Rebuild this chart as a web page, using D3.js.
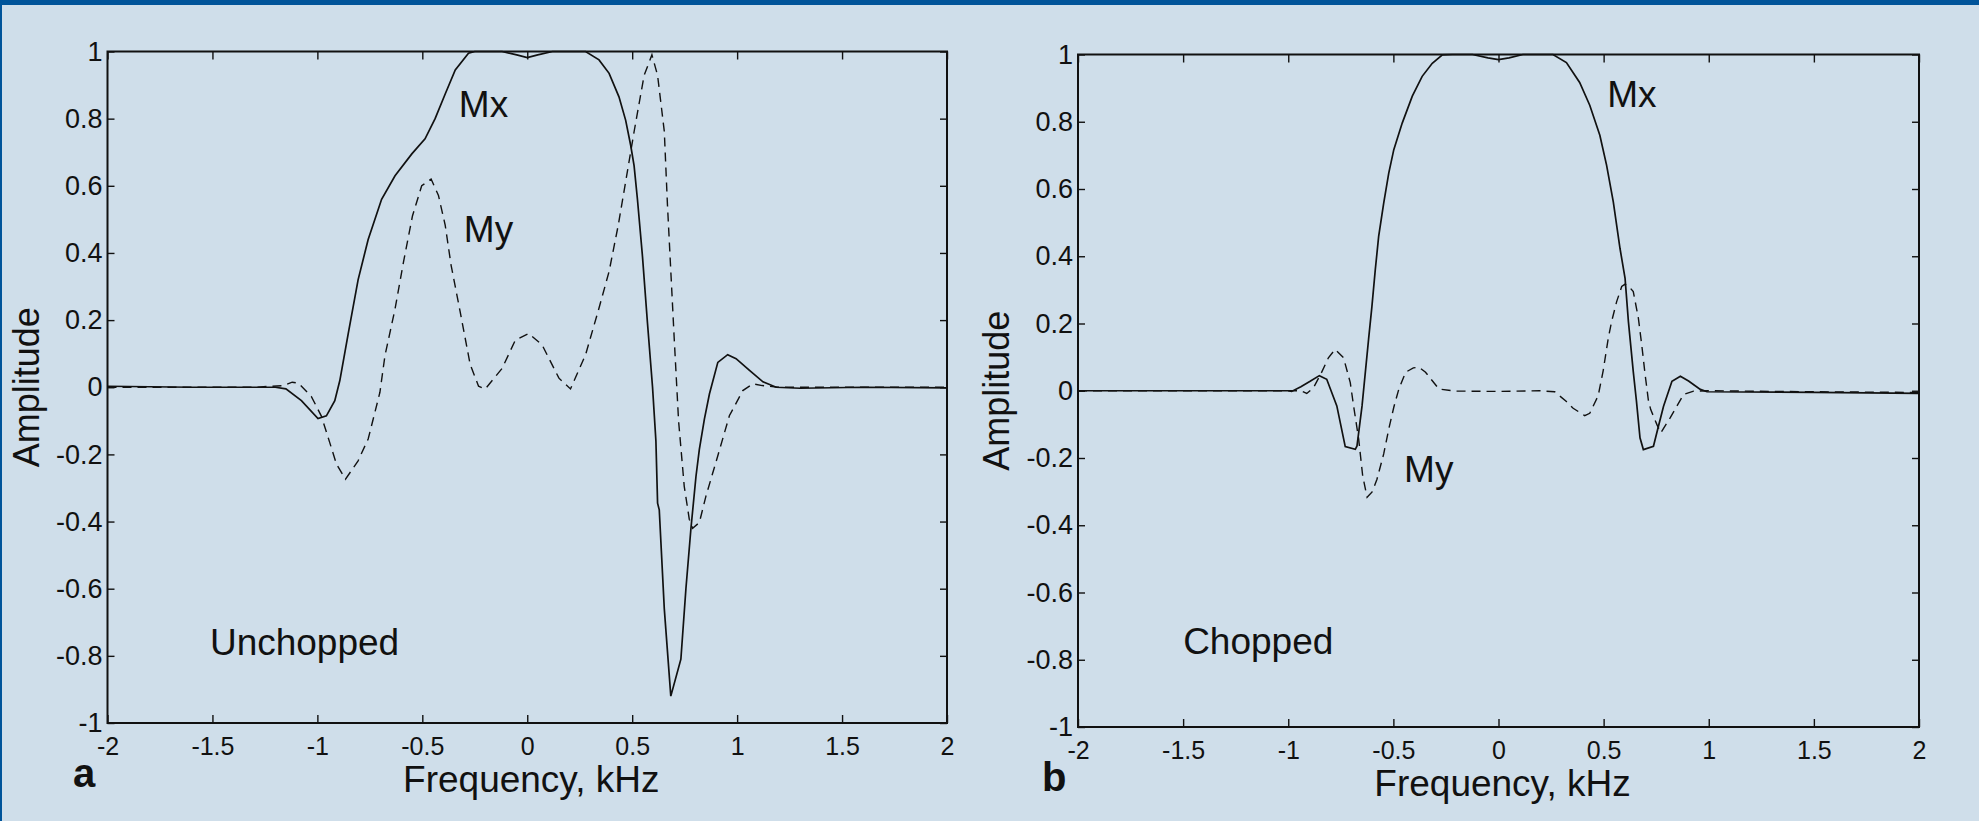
<!DOCTYPE html>
<html>
<head>
<meta charset="utf-8">
<script src="https://cdn.jsdelivr.net/npm/d3@7"></script>
<style>
  body { margin: 0; background: #cfdeea; }
  svg { display: block; }
  text { font-family: "Liberation Sans", Arial, Helvetica, sans-serif; fill: #111; }
</style>
</head>
<body>
<svg width="1979" height="821"></svg>
<script>
// tick values and labels (shared by both panels)
const xTicks = [-2, -1.5, -1, -0.5, 0, 0.5, 1, 1.5, 2];
const xTickLabels = ["-2", "-1.5", "-1", "-0.5", "0", "0.5", "1", "1.5", "2"];
const yTicks = [-1, -0.8, -0.6, -0.4, -0.2, 0, 0.2, 0.4, 0.6, 0.8, 1];
const yTickLabels = ["-1", "-0.8", "-0.6", "-0.4", "-0.2", "0", "0.2", "0.4", "0.6", "0.8", "1"];

// panel a : unchopped
const freqMxA = [-2, -1.6, -1.3, -1.2, -1.15, -1.076, -0.997, -0.957, -0.917, -0.893, -0.853, -0.806, -0.758, -0.694, -0.63, -0.55, -0.487, -0.439, -0.39, -0.343, -0.28, -0.25, -0.12, -0.05, 0, 0.05, 0.12, 0.278, 0.342, 0.39, 0.437, 0.469, 0.493, 0.509, 0.525, 0.549, 0.573, 0.597, 0.613, 0.621, 0.629, 0.653, 0.684, 0.732, 0.756, 0.78, 0.804, 0.82, 0.844, 0.868, 0.908, 0.955, 0.995, 1.059, 1.123, 1.186, 1.3, 1.6, 2];
const mxA = [0.003, 0, 0, 0, -0.005, -0.04, -0.093, -0.085, -0.04, 0.02, 0.16, 0.32, 0.44, 0.56, 0.63, 0.695, 0.74, 0.8, 0.875, 0.945, 0.995, 1, 1, 0.99, 0.982, 0.99, 1, 1, 0.975, 0.935, 0.865, 0.795, 0.72, 0.66, 0.56, 0.39, 0.19, 0, -0.16, -0.345, -0.365, -0.66, -0.92, -0.81, -0.6, -0.42, -0.265, -0.185, -0.095, -0.02, 0.074, 0.097, 0.085, 0.05, 0.016, 0, -0.003, 0, -0.002];
const freqMyA = [-2, -1.6, -1.3, -1.16, -1.12, -1.09, -1.029, -0.981, -0.941, -0.909, -0.866, -0.806, -0.758, -0.726, -0.702, -0.678, -0.63, -0.59, -0.547, -0.503, -0.458, -0.423, -0.391, -0.363, -0.32, -0.272, -0.232, -0.2, -0.12, -0.057, 0.007, 0.071, 0.151, 0.206, 0.278, 0.342, 0.39, 0.434, 0.477, 0.509, 0.557, 0.594, 0.621, 0.653, 0.668, 0.684, 0.7, 0.721, 0.748, 0.772, 0.788, 0.82, 0.852, 0.908, 0.963, 1.027, 1.075, 1.12, 1.2, 1.6, 2];
const myA = [0, 0, 0, 0.005, 0.015, 0.012, -0.027, -0.086, -0.165, -0.229, -0.274, -0.219, -0.154, -0.075, -0.015, 0.094, 0.233, 0.372, 0.51, 0.6, 0.62, 0.571, 0.483, 0.364, 0.226, 0.068, 0.003, -0.005, 0.056, 0.14, 0.16, 0.126, 0.027, -0.005, 0.097, 0.236, 0.345, 0.484, 0.642, 0.761, 0.929, 0.99, 0.929, 0.762, 0.544, 0.346, 0.148, -0.1, -0.295, -0.393, -0.42, -0.403, -0.323, -0.204, -0.085, -0.01, 0.01, 0.005, 0, 0, 0];

// panel b : chopped
const freqMxB = [-2, -1.5, -1, -0.984, -0.94, -0.896, -0.852, -0.817, -0.769, -0.729, -0.681, -0.673, -0.649, -0.618, -0.602, -0.586, -0.57, -0.546, -0.522, -0.498, -0.458, -0.41, -0.363, -0.315, -0.267, -0.219, -0.124, -0.05, 0, 0.05, 0.116, 0.259, 0.323, 0.386, 0.434, 0.482, 0.514, 0.546, 0.578, 0.602, 0.618, 0.641, 0.656, 0.673, 0.689, 0.737, 0.761, 0.785, 0.825, 0.865, 0.904, 0.96, 0.992, 1.5, 2];
const mxB = [0, 0, 0, -0.002, 0.012, 0.028, 0.045, 0.034, -0.045, -0.166, -0.174, -0.164, -0.045, 0.153, 0.251, 0.36, 0.459, 0.558, 0.647, 0.717, 0.796, 0.876, 0.935, 0.974, 0.999, 1, 1, 0.99, 0.985, 0.99, 1, 1, 0.976, 0.917, 0.849, 0.76, 0.671, 0.562, 0.423, 0.334, 0.205, 0.057, -0.03, -0.14, -0.175, -0.165, -0.105, -0.046, 0.028, 0.043, 0.029, 0.004, -0.003, -0.005, -0.008];
const freqMyB = [-2, -1.5, -1, -0.94, -0.912, -0.88, -0.845, -0.809, -0.777, -0.737, -0.705, -0.689, -0.665, -0.646, -0.625, -0.6, -0.578, -0.546, -0.522, -0.498, -0.474, -0.442, -0.405, -0.378, -0.347, -0.283, -0.203, 0, 0.195, 0.267, 0.323, 0.355, 0.41, 0.434, 0.474, 0.498, 0.522, 0.538, 0.562, 0.586, 0.602, 0.62, 0.641, 0.665, 0.681, 0.697, 0.713, 0.724, 0.753, 0.772, 0.817, 0.88, 0.928, 1, 1.5, 2];
const myB = [0, 0, 0, 0, -0.008, 0.009, 0.05, 0.098, 0.123, 0.098, 0.024, -0.046, -0.144, -0.253, -0.317, -0.3, -0.263, -0.188, -0.114, -0.049, 0.005, 0.055, 0.068, 0.07, 0.055, 0.005, -0.001, -0.002, 0, -0.003, -0.032, -0.052, -0.074, -0.067, -0.015, 0.06, 0.156, 0.206, 0.265, 0.31, 0.317, 0.31, 0.295, 0.217, 0.138, 0.05, -0.029, -0.056, -0.1, -0.125, -0.08, -0.011, -0.001, 0, -0.003, -0.005];

// text annotations, placed in data coordinates
const notesA = [
    { text: "Mx", f: -0.326, v: 0.804 },
    { text: "My", f: -0.302, v: 0.432 },
    { text: "Unchopped", f: -1.512, v: -0.798 }
];
const notesB = [
    { text: "Mx", f: 0.517, v: 0.845 },
    { text: "My", f: -0.449, v: -0.271 },
    { text: "Chopped", f: -1.5, v: -0.782 }
];

// layout (the scan is slightly tilted, so the two boxes differ a bit)
const panels = [
    { letter: "a", left: 107.5, right: 947, top: 51.5, bottom: 723, letterX: 73, letterY: 787,
      mx: [freqMxA, mxA], my: [freqMyA, myA], notes: notesA },
    { letter: "b", left: 1078, right: 1919, top: 54.5, bottom: 727, letterX: 1042, letterY: 791,
      mx: [freqMxB, mxB], my: [freqMyB, myB], notes: notesB }
];

const svg = d3.select("svg");
const ink = "#111";

svg.append("rect").attr("width", 1979).attr("height", 821).attr("fill", "#cfdeea");
svg.append("rect").attr("width", 1979).attr("height", 5).attr("fill", "#00549a");
svg.append("rect").attr("width", 2).attr("height", 821).attr("fill", "#00549a");

panels.forEach(p => {
    const x = d3.scaleLinear().domain([-2, 2]).range([p.left, p.right]);
    const y = d3.scaleLinear().domain([-1, 1]).range([p.bottom, p.top]);
    const g = svg.append("g");

    const tickFmtX = (d, i) => xTickLabels[i];
    const tickFmtY = (d, i) => yTickLabels[i];

    // axes, ticks pointing inward on all four sides
    const bottom = g.append("g").attr("transform", `translate(0,${p.bottom})`)
        .call(d3.axisBottom(x).tickValues(xTicks).tickFormat(tickFmtX).tickSizeInner(-8).tickSizeOuter(0).tickPadding(14));
    const top = g.append("g").attr("transform", `translate(0,${p.top})`)
        .call(d3.axisTop(x).tickValues(xTicks).tickFormat("").tickSizeInner(-8).tickSizeOuter(0));
    const left = g.append("g").attr("transform", `translate(${p.left},0)`)
        .call(d3.axisLeft(y).tickValues(yTicks).tickFormat(tickFmtY).tickSizeInner(-7).tickSizeOuter(0).tickPadding(5));
    const right = g.append("g").attr("transform", `translate(${p.right},0)`)
        .call(d3.axisRight(y).tickValues(yTicks).tickFormat("").tickSizeInner(-7).tickSizeOuter(0));

    [bottom, top, left, right].forEach(a => {
        a.select(".domain").remove();
        a.selectAll("line").attr("stroke", ink).attr("stroke-width", 1.4);
        a.selectAll("text").attr("fill", ink)
            .style("font-family", "'Liberation Sans', Arial, sans-serif");
    });
    left.selectAll("text").style("font-size", "27px");
    bottom.selectAll("text").style("font-size", "25px");

    g.append("rect")
        .attr("x", p.left).attr("y", p.top)
        .attr("width", p.right - p.left).attr("height", p.bottom - p.top)
        .attr("fill", "none").attr("stroke", ink).attr("stroke-width", 2);

    const line = d3.line().x(d => x(d[0])).y(d => y(d[1]));

    g.append("path")
        .datum(p.my[0].map((f, i) => [f, p.my[1][i]]))
        .attr("d", line)
        .attr("fill", "none").attr("stroke", ink).attr("stroke-width", 1.4)
        .attr("stroke-dasharray", "9,6");

    g.append("path")
        .datum(p.mx[0].map((f, i) => [f, p.mx[1][i]]))
        .attr("d", line)
        .attr("fill", "none").attr("stroke", ink).attr("stroke-width", 1.7);

    g.selectAll(".note")
        .data(p.notes)
        .join("text")
        .attr("class", "note")
        .attr("x", d => x(d.f))
        .attr("y", d => y(d.v))
        .style("font-size", "37px")
        .text(d => d.text);

    // axis titles
    g.append("text")
        .attr("x", (p.left + p.right) / 2 + 4)
        .attr("y", p.bottom + 69)
        .attr("text-anchor", "middle")
        .style("font-size", "37px")
        .text("Frequency, kHz");

    g.append("text")
        .attr("transform", `translate(${p.left - 69},${(p.top + p.bottom) / 2}) rotate(-90)`)
        .attr("text-anchor", "middle")
        .style("font-size", "36px")
        .text("Amplitude");

    g.append("text")
        .attr("x", p.letterX)
        .attr("y", p.letterY)
        .style("font-size", "40px")
        .style("font-weight", "bold")
        .text(p.letter);
});
</script>
</body>
</html>
